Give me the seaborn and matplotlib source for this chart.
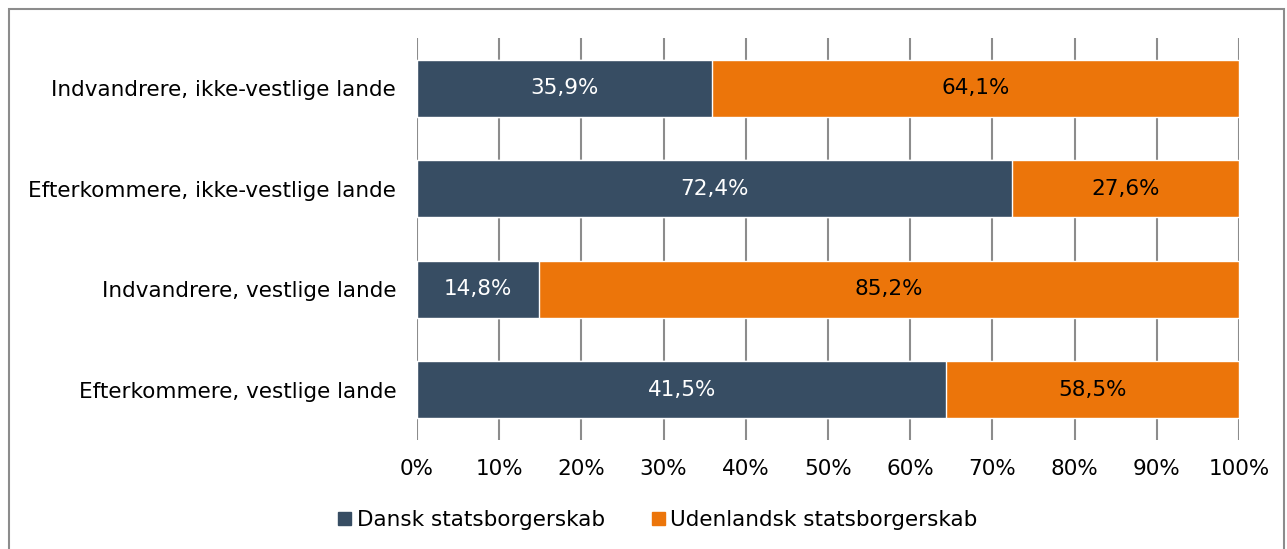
import pandas as pd
import matplotlib.pyplot as plt
import seaborn as sns
from matplotlib.patches import Rectangle, Patch

# data (bar lengths in %, and the printed labels)
groups = ["Indvandrere, ikke-vestlige lande", "Efterkommere, ikke-vestlige lande",
          "Indvandrere, vestlige lande", "Efterkommere, vestlige lande"]
dansk = [35.9, 72.4, 14.8, 64.4]
udenlandsk = [64.1, 27.6, 85.2, 35.6]
dansk_labels = ["35,9%", "72,4%", "14,8%", "41,5%"]
udenlandsk_labels = ["64,1%", "27,6%", "85,2%", "58,5%"]
ticks = [0, 10, 20, 30, 40, 50, 60, 70, 80, 90, 100]

c_dansk = "#374D63"
c_uden = "#EC750A"
fs = 15.5

df = pd.DataFrame({"group": groups, "dansk": dansk, "udenlandsk": udenlandsk})
df["total"] = df["dansk"] + df["udenlandsk"]

sns.set_style("white")
plt.rcParams['font.family'] = ['DejaVu Sans']
plt.rcParams['text.color'] = 'black'
plt.rcParams['xtick.color'] = 'black'
plt.rcParams['ytick.color'] = 'black'

fig = plt.figure(figsize=(12.87, 5.49), dpi=100)
ax = fig.add_axes([417 / 1287, 1 - 440 / 549, (1239 - 417) / 1287, 402 / 549])

sns.barplot(data=df, y="group", x="total", color=c_uden, orient="h",
            width=0.57, saturation=1, ax=ax, zorder=2)
sns.barplot(data=df, y="group", x="dansk", color=c_dansk, orient="h",
            width=0.57, saturation=1, ax=ax, zorder=3)

for i in range(len(groups)):
    ax.text(dansk[i] / 2, i, dansk_labels[i], ha="center", va="center",
            color="white", fontsize=fs, zorder=4)
    ax.text(dansk[i] + udenlandsk[i] / 2, i, udenlandsk_labels[i], ha="center",
            va="center", color="black", fontsize=fs, zorder=4)

ax.set_xlim(0, 100)
ax.set_ylim(3.5, -0.5)
ax.set_xticks(ticks)
ax.set_xticklabels([f"{t}%" for t in ticks], fontsize=fs)
ax.tick_params(axis="x", length=0, pad=14)
ax.tick_params(axis="y", length=0, pad=15, labelsize=fs)
ax.set_xlabel("")
ax.set_ylabel("")
ax.xaxis.grid(True, color="#8C8C8C", linewidth=1.5, zorder=1)
ax.set_axisbelow(True)
for s in ax.spines.values():
    s.set_visible(False)

handles = [Patch(color=c_dansk, label="Dansk statsborgerskab"),
           Patch(color=c_uden, label="Udenlandsk statsborgerskab")]
fig.legend(handles=handles, loc="center", bbox_to_anchor=(658 / 1287, 1 - 520 / 549),
           ncol=2, frameon=False, fontsize=fs, handlelength=0.6, handleheight=0.6,
           handletextpad=0.25, columnspacing=2.2)

fig.patches.append(Rectangle((9 / 1287, -0.05), 1275 / 1287, 1.05 - 9 / 549,
                             transform=fig.transFigure, fill=False,
                             edgecolor="#8C8C8C", linewidth=1.5))

fig.savefig("out.png", dpi=100)
